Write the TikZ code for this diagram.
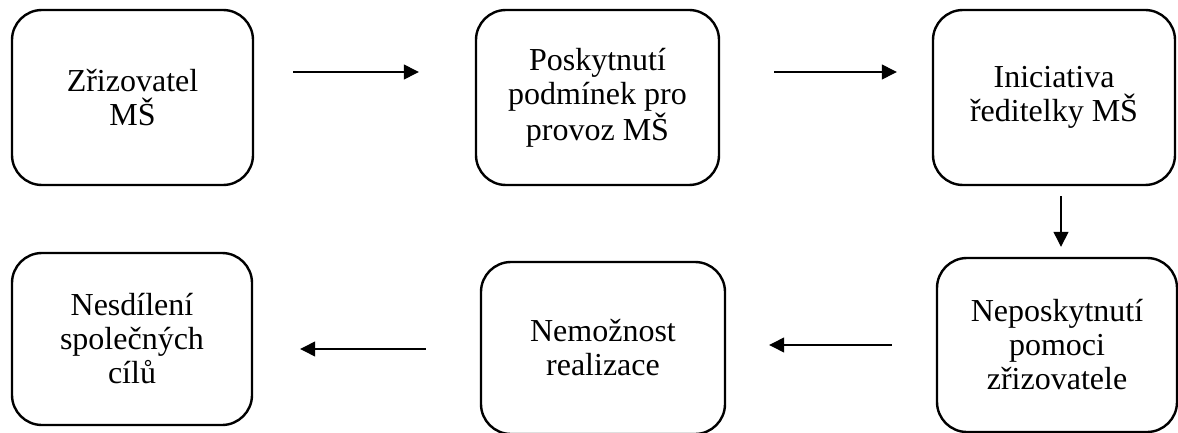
\documentclass[tikz,border=0pt]{standalone}
\usepackage{fontspec}
\setmainfont{Liberation Serif}
\usetikzlibrary{arrows.meta}

\begin{document}
\begin{tikzpicture}[x=0.5pt,y=-0.5pt,
  blok/.style={draw,line width=1.2pt,rounded corners=15pt,align=center,
    font=\fontsize{16}{17}\selectfont,inner sep=0pt,
    execute at begin node={\vspace*{3.5pt}}},
  sipka/.style={line width=0.65pt,-{Triangle[length=7.5pt,width=7.5pt]}}]
  \useasboundingbox (0,0) rectangle (1178,433);
  % horni rada
  \node[blok,minimum width=120.5pt,minimum height=87.5pt] (zrizovatel) at (132.5,97.5) {Zřizovatel\\MŠ};
  \node[blok,minimum width=121.5pt,minimum height=87.5pt] (podminky) at (597.5,97.5) {Poskytnutí\\podmínek pro\\provoz MŠ};
  \node[blok,minimum width=121pt,minimum height=87.5pt] (iniciativa) at (1054,97.5) {Iniciativa\\ředitelky MŠ};
  % dolni rada
  \node[blok,minimum width=120pt,minimum height=86pt] (cile) at (132,339) {Nesdílení\\společných\\cílů};
  \node[blok,minimum width=122pt,minimum height=86pt] (realizace) at (603,348) {Nemožnost\\realizace};
  \node[blok,minimum width=120pt,minimum height=87pt] (pomoc) at (1057,345) {Neposkytnutí\\pomoci\\zřizovatele};
  % sipky
  \draw[sipka,shorten <=19.5pt,shorten >=28pt] ([yshift=12.75pt]zrizovatel.east) -- ([yshift=12.75pt]podminky.west);
  \draw[sipka,shorten <=27pt,shorten >=17.5pt] ([yshift=12.75pt]podminky.east) -- ([yshift=12.75pt]iniciativa.west);
  \draw[sipka,shorten <=5pt,shorten >=5pt] ([xshift=3.5pt]iniciativa.south) -- ([xshift=3.5pt]iniciativa.south |- pomoc.north);
  \draw[sipka,shorten <=22pt,shorten >=21.5pt] (pomoc.west) -- (pomoc.west -| realizace.east);
  \draw[sipka,shorten <=27pt,shorten >=23.5pt] ([yshift=-0.5pt]realizace.west) -- ([yshift=-0.5pt]realizace.west -| cile.east);
\end{tikzpicture}
\end{document}
